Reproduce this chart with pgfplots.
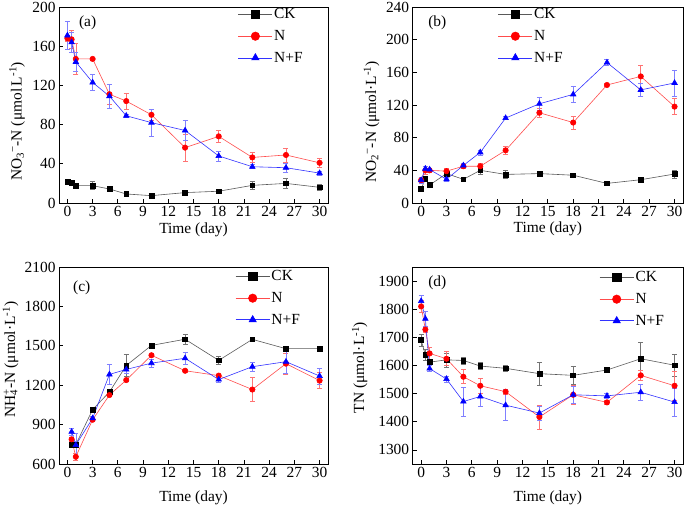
\documentclass[border=0pt]{standalone}
\usepackage{fontspec}
\setmainfont{Liberation Serif}
\usepackage{pgfplots}
\pgfplotsset{compat=1.18}
\pgfplotsset{
  panel/.style={
    scale only axis, height=196bp,
    xmin=-1, xmax=31, xtick={0,3,...,30},
    tick pos=left, tick align=inside, major tick length=4bp,
    axis line style={line width=0.8bp},
    every tick/.style={black, line width=0.8bp},
    font=\fontsize{15.5}{18}\selectfont,
    /pgf/number format/assume math mode=true,
    /pgf/number format/1000 sep={},
    legend style={draw=none, fill=none, inner sep=0pt, row sep=7bp,
      cells={anchor=west}, font=\fontsize{15.5}{18}\selectfont,
      nodes={inner sep=1.5bp}},
    legend image code/.code={\draw[mark repeat=2,mark phase=2,##1,mark size=4.2bp] plot coordinates {(0bp,0bp) (17bp,0bp) (34bp,0bp)};},
    clip=false,
  },
  ck/.style={color=black!65, line width=0.6bp, mark=square*, mark size=2.4bp,
    mark options={draw=black, fill=black},
    error bars/y dir=both, error bars/y explicit,
    error bars/error bar style={black!55, line width=0.6bp},
    error bars/error mark options={rotate=90, mark size=2.5bp, black!55, line width=0.6bp}},
  nn/.style={color=red!70, line width=0.6bp, mark=*, mark size=2.7bp,
    mark options={draw=red, fill=red},
    error bars/y dir=both, error bars/y explicit,
    error bars/error bar style={red!55, line width=0.6bp},
    error bars/error mark options={rotate=90, mark size=2.5bp, red!55, line width=0.6bp}},
  nf/.style={color=blue!80, line width=0.6bp, mark=triangle*, mark size=3.2bp,
    mark options={draw=blue, fill=blue},
    error bars/y dir=both, error bars/y explicit,
    error bars/error bar style={blue!50, line width=0.6bp},
    error bars/error mark options={rotate=90, mark size=2.5bp, blue!50, line width=0.6bp}},
}
\begin{document}
\begin{tikzpicture}
\useasboundingbox (0,0) rectangle (685bp,507bp);
% (a)
\begin{axis}[panel, width=269bp, at={(59bp,304bp)}, anchor=south west,
  ymin=0, ymax=200, ytick={0,40,...,200},
  xlabel={Time (day)}, ylabel={NO\textsubscript{3}\textsuperscript{−}-N (μmol\,L\textsuperscript{-1})},
  xlabel style={at={(axis description cs:0.5,-0.138)}, anchor=center},
  ylabel style={at={(axis description cs:-0.156,0.416)}, anchor=center},
  legend style={at={(axis description cs:0.665,1.0)}, anchor=north west}]
\addplot[ck] table[x index=0, y index=1, y error index=2] {
0 21.5 1.5
0.5 20.5 1
1 17.7 1
3 17.7 4
5 14.3 1
7 9.2 1
10 7.5 2.5
14 10.6 1
18 12 1
22 18 4.5
26 20 5
30 16 3.5
};
\addplot[nn] table[x index=0, y index=1, y error index=2] {
0 168 3
0.5 167 9
1 147 16
3 147 1
5 111 10
7 104 8
10 90 6
14 56.5 14
18 68 6
22 46.5 5
26 49 7
30 41 5
};
\addplot[nf] table[x index=0, y index=1, y error index=2] {
0 171 14
0.5 164 10
1 144 10
3 123 8
5 109 12
7 89 2
10 82 14
14 74 10
18 48 5
22 37 2
26 36 5
30 30.5 2
};
\legend{CK,N,N+F}
\node[anchor=west, inner sep=0pt] at (axis description cs:0.074,0.918) {(a)};
\end{axis}
% (b)
\begin{axis}[panel, width=270.3bp, at={(412.7bp,304bp)}, anchor=south west,
  ymin=0, ymax=240, ytick={0,40,...,240},
  xlabel={Time (day)}, ylabel={NO\textsubscript{2}\textsuperscript{−}-N (μmol·L\textsuperscript{-1})},
  xlabel style={at={(axis description cs:0.5,-0.132)}, anchor=center},
  ylabel style={at={(axis description cs:-0.152,0.413)}, anchor=center},
  legend style={at={(axis description cs:0.315,1.0)}, anchor=north west}]
\addplot[ck] table[x index=0, y index=1, y error index=2] {
0 17 3
0.5 30 3
1 22 2
3 36 2
5 29 2
7 40 5
10 35 5
14 36 2
18 34 2
22 24 2
26 28.5 2
30 35.5 5
};
\addplot[nn] table[x index=0, y index=1, y error index=2] {
0 28 3
0.5 40 5
1 40 2
3 39 3
5 45 2
7 45 3
10 64.5 5
14 110.5 6
18 98.5 8
22 144.5 2
26 155 14
30 118 10
};
\addplot[nf] table[x index=0, y index=1, y error index=2] {
0 28 4
0.5 42 3
1 41 2
3 29 2
5 46 2
7 62 3
10 104 2
14 121.5 8
18 133 10
22 172 4
26 138.5 8
30 147 16
};
\legend{CK,N,N+F}
\node[anchor=west, inner sep=0pt] at (axis description cs:0.057,0.918) {(b)};
\end{axis}
% (c)
\begin{axis}[panel, width=269bp, height=197bp, at={(59bp,43bp)}, anchor=south west,
  ymin=600, ymax=2100, ytick={600,900,...,2100},
  xlabel={Time (day)}, ylabel={NH\rlap{\textsubscript{4}}\textsuperscript{+}-N (μmol·L\textsuperscript{-1})},
  xlabel style={at={(axis description cs:0.5,-0.173)}, anchor=center},
  ylabel style={at={(axis description cs:-0.18,0.53)}, anchor=center},
  legend style={at={(axis description cs:0.655,0.99)}, anchor=north west}]
\addplot[ck] table[x index=0, y index=1, y error index=2] {
0.5 747 15
1 747 15
3 1015 15
5 1148 15
7 1350 85
10 1503 15
14 1550 40
18 1389 30
22 1549 10
26 1478 10
30 1478 10
};
\addplot[nn] table[x index=0, y index=1, y error index=2] {
0.5 788 15
1 655 30
3 937 10
5 1125 10
7 1239 10
10 1428 10
14 1310 10
18 1273 10
22 1167 90
26 1364 80
30 1235 60
};
\addplot[nf] table[x index=0, y index=1, y error index=2] {
0.5 845 30
1 745 90
3 948 15
5 1282 75
7 1320 30
10 1368 30
14 1405 45
18 1243 20
22 1341 35
26 1379 90
30 1270 60
};
\legend{CK,N,N+F}
\node[anchor=west, inner sep=0pt] at (axis description cs:0.052,0.893) {(c)};
\end{axis}
% (d)
\begin{axis}[panel, width=270.3bp, height=197bp, at={(412.7bp,43bp)}, anchor=south west,
  ymin=1250, ymax=1950, ytick={1300,1400,...,1900},
  xlabel={Time (day)}, ylabel={TN (μmol·L\textsuperscript{-1})},
  xlabel style={at={(axis description cs:0.5,-0.173)}, anchor=center},
  ylabel style={at={(axis description cs:-0.196,0.49)}, anchor=center},
  legend style={at={(axis description cs:0.69,0.985)}, anchor=north west}]
\addplot[ck] table[x index=0, y index=1, y error index=2] {
0 1690 22
0.5 1638 20
1 1612 8
3 1620 25
5 1618 12
7 1598 12
10 1590 12
14 1571 42
18 1565 32
22 1584 8
26 1624 58
30 1601 38
};
\addplot[nn] table[x index=0, y index=1, y error index=2] {
0 1810 20
0.5 1728 10
1 1643 20
3 1624 25
5 1560 25
7 1528 28
10 1507 8
14 1417 42
18 1496 35
22 1469 8
26 1565 18
30 1528 50
};
\addplot[nf] table[x index=0, y index=1, y error index=2] {
0 1829 22
0.5 1766 25
1 1589 10
3 1552 10
5 1472 52
7 1490 35
10 1459 55
14 1431 25
18 1496 30
22 1492 8
26 1505 28
30 1470 50
};
\legend{CK,N,N+F}
\node[anchor=west, inner sep=0pt] at (axis description cs:0.057,0.919) {(d)};
\end{axis}
\end{tikzpicture}
\end{document}
